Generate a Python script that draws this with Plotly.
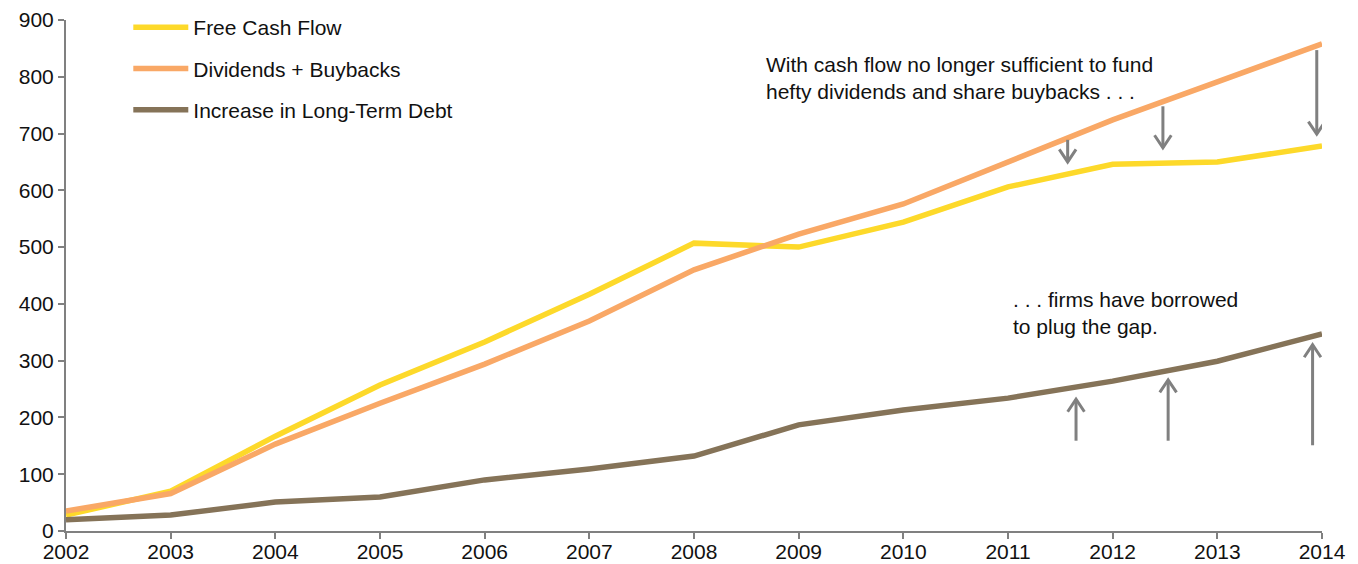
import plotly.graph_objects as go

years = list(range(2002, 2015))
free_cash_flow = [28, 70, 167, 257, 333, 417, 507, 500, 544, 606, 646, 650, 678]
dividends_buybacks = [35, 66, 153, 225, 294, 370, 460, 523, 576, 650, 724, 791, 858]
lt_debt_increase = [20, 28, 51, 60, 90, 109, 132, 187, 213, 234, 264, 299, 347]

series_names = ["Free Cash Flow", "Dividends + Buybacks", "Increase in Long-Term Debt"]
series_colors = ["#FDD92A", "#F9A866", "#857358"]

# arrows: (x, tail_y, head_y)
down_arrows_x = [2011.57, 2012.48, 2013.95]
down_arrows_tail = [689, 748, 847]
down_arrows_head = [650, 675, 699]
up_arrows_x = [2011.65, 2012.53, 2013.91]
up_arrows_tail = [159, 159, 151]
up_arrows_head = [232, 266, 328]

FONT = "Liberation Sans, Arial, sans-serif"
AXIS_COLOR = "#808080"
FS = 21

fig = go.Figure()
for name, vals, col in zip(series_names, [free_cash_flow, dividends_buybacks, lt_debt_increase], series_colors):
    fig.add_trace(go.Scatter(x=years, y=vals, mode="lines", name=name, legendgroup=name,
                             line=dict(color=col, width=5.5)))

shapes = []
dx = 0.08
dy = 22
for x, t, h in zip(down_arrows_x, down_arrows_tail, down_arrows_head):
    shapes.append(dict(type="line", xref="x", yref="y", x0=x, x1=x, y0=t, y1=h,
                       line=dict(color=AXIS_COLOR, width=3)))
    shapes.append(dict(type="path", xref="x", yref="y",
                       path=f"M {x-dx},{h+dy} L {x},{h} L {x+dx},{h+dy}",
                       line=dict(color=AXIS_COLOR, width=3)))
for x, t, h in zip(up_arrows_x, up_arrows_tail, up_arrows_head):
    shapes.append(dict(type="line", xref="x", yref="y", x0=x, x1=x, y0=t, y1=h,
                       line=dict(color=AXIS_COLOR, width=3)))
    shapes.append(dict(type="path", xref="x", yref="y",
                       path=f"M {x-dx},{h-dy} L {x},{h} L {x+dx},{h-dy}",
                       line=dict(color=AXIS_COLOR, width=3)))

annotations = [
    dict(x=2008.67, y=797, xref="x", yref="y", xanchor="left", yanchor="middle", align="left",
         showarrow=False,
         text="With cash flow no longer sufficient to fund<br>hefty dividends and share buybacks . . .",
         font=dict(family=FONT, size=FS, color="#111111")),
    dict(x=2011.03, y=384, xref="x", yref="y", xanchor="left", yanchor="middle", align="left",
         showarrow=False,
         text=". . . firms have borrowed<br>to plug the gap.",
         font=dict(family=FONT, size=FS, color="#111111")),
]

fig.update_layout(
    width=1358, height=564,
    margin=dict(l=66, r=36, t=20, b=33, autoexpand=False),
    plot_bgcolor="white", paper_bgcolor="white",
    font=dict(family=FONT, size=FS, color="#111111"),
    showlegend=True,
    legend=dict(x=0.0496, y=0.9876, xanchor="left", yanchor="top", yref="container",
                bgcolor="rgba(0,0,0,0)",
                tracegroupgap=11, itemwidth=55, font=dict(size=FS)),
    shapes=shapes,
    annotations=annotations,
    xaxis=dict(range=[2002, 2014], tickmode="array", tickvals=years,
               ticktext=[str(y) for y in years], automargin=False,
               showgrid=False, zeroline=False, showline=True, linecolor=AXIS_COLOR, linewidth=2,
               ticks="outside", ticklen=6, tickcolor=AXIS_COLOR, tickwidth=2,
               ticklabelstandoff=-5,
               tickfont=dict(size=FS)),
    yaxis=dict(range=[0, 900], tickmode="array", tickvals=list(range(0, 901, 100)),
               automargin=False,
               showgrid=False, zeroline=False, showline=True, linecolor=AXIS_COLOR, linewidth=2,
               ticks="outside", ticklen=6, tickcolor=AXIS_COLOR, tickwidth=2,
               tickfont=dict(size=FS)),
)

fig.write_html("out.html")
